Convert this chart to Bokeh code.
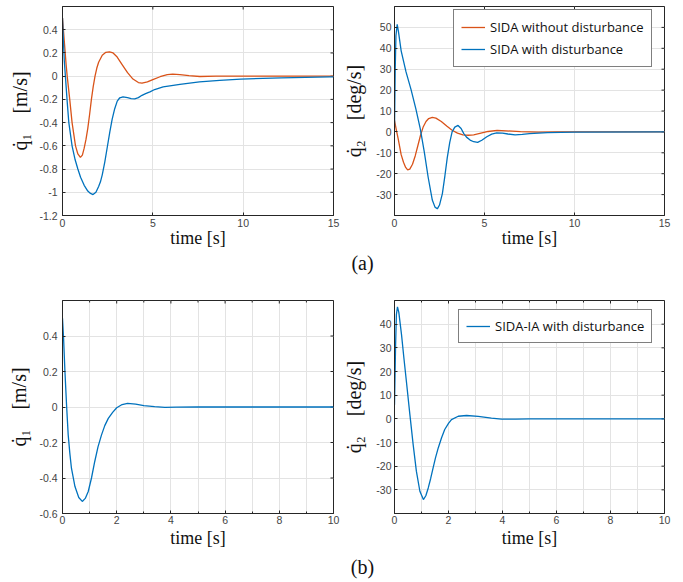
import math
from bokeh.plotting import figure
from bokeh.models import FixedTicker, Legend, LegendItem, Div, Range1d
from bokeh.layouts import column, row
from bokeh.embed import file_html
from bokeh.resources import INLINE

BLUE = "#0072BD"
ORANGE = "#D95319"
FRAME = "#262626"
GRID = "#e3e3e3"
TICKC = "#444444"

# ---------------- data: panel (a), q1 ----------------
t_a1_nodist = [0, 0.1, 0.2, 0.26, 0.4, 0.53, 0.72, 0.85, 0.99, 1.1, 1.2, 1.3, 1.4, 1.5, 1.6,
               1.7, 1.8, 1.9, 2.0, 2.2, 2.4, 2.6, 2.8, 3.0, 3.3, 3.6, 3.9, 4.2, 4.4, 4.7,
               5.0, 5.4, 5.8, 6.1, 6.5, 7.0, 7.6, 8.5, 10, 12, 15]
q1_a_nodist = [0.5, 0.3, 0.1, 0.0, -0.2, -0.4, -0.6, -0.67, -0.70, -0.68, -0.62, -0.545, -0.45,
               -0.33, -0.2, -0.09, 0.0, 0.07, 0.12, 0.18, 0.205, 0.21, 0.2, 0.17, 0.10, 0.03,
               -0.025, -0.055, -0.06, -0.05, -0.03, -0.005, 0.013, 0.018, 0.014, 0.004,
               -0.003, 0.0, 0.0, 0.0, 0.0]

t_a1_dist = [0, 0.05, 0.1, 0.16, 0.25, 0.35, 0.53, 0.7, 0.85, 1.0, 1.2, 1.4, 1.55, 1.69, 1.85,
             2.0, 2.1, 2.2, 2.34, 2.48, 2.62, 2.75, 2.89, 3.03, 3.17, 3.35, 3.6, 3.8, 4.0,
             4.2, 4.4, 4.6, 4.84, 5.1, 5.57, 6.5, 7.58, 8.7, 9.87, 12.1, 14.8, 15]
q1_a_dist = [0.5, 0.3, 0.13, 0.0, -0.2, -0.4, -0.6, -0.72, -0.8, -0.87, -0.94, -0.99, -1.01,
             -1.02, -1.0, -0.95, -0.91, -0.85, -0.74, -0.61, -0.48, -0.37, -0.28, -0.215,
             -0.186, -0.178, -0.185, -0.193, -0.195, -0.185, -0.165, -0.15, -0.135, -0.115,
             -0.093, -0.07, -0.05, -0.036, -0.025, -0.014, -0.006, -0.006]

# ---------------- data: panel (a), q2 ----------------
t_a2_nodist = [0, 0.1, 0.2, 0.37, 0.5, 0.62, 0.73, 0.85, 1.0, 1.15, 1.3, 1.45, 1.6, 1.75, 1.9,
               2.1, 2.3, 2.6, 2.9, 3.2, 3.5, 3.8, 4.1, 4.4, 4.8, 5.2, 5.7, 6.2, 7.0, 8.0,
               9.0, 15]
q2_a_nodist = [5.5, 1.0, -3.1, -10.9, -14.5, -17.0, -18.2, -17.8, -15.5, -11.5, -6.5, -1.5,
               2.5, 5.0, 6.4, 7.0, 6.6, 5.0, 2.8, 0.8, -0.6, -1.4, -1.6, -1.4, -0.6, 0.2,
               0.7, 0.5, 0.1, -0.1, 0.0, 0.0]

t_a2_dist = [0, 0.04, 0.08, 0.15, 0.22, 0.37, 0.64, 0.92, 1.19, 1.43, 1.65, 1.87, 2.1, 2.25,
             2.38, 2.5, 2.66, 2.8, 2.93, 3.07, 3.2, 3.35, 3.53, 3.7, 3.85, 4.0, 4.2, 4.4,
             4.62, 4.85, 5.13, 5.4, 5.68, 6.0, 6.3, 6.7, 7.1, 7.5, 8.5, 10, 15]
q2_a_dist = [2.0, 30.0, 46.0, 51.5, 48.0, 38.8, 28.7, 20.2, 10.9, 1.6, -9.3, -21.7, -32.6,
             -36.0, -36.8, -35.0, -29.5, -21.0, -12.4, -5.0, 0.0, 2.3, 3.1, 1.6, -0.8, -2.5,
             -3.9, -4.7, -5.0, -4.0, -2.3, -1.1, -0.5, -0.6, -1.0, -1.4, -1.2, -0.8, -0.3,
             -0.1, 0.0]

# ---------------- data: panel (b) ----------------
t_b1 = [0, 0.04, 0.09, 0.15, 0.21, 0.27, 0.33, 0.46, 0.6, 0.73, 0.84, 0.95, 1.07, 1.19, 1.31,
        1.44, 1.56, 1.69, 1.85, 2.0, 2.2, 2.4, 2.7, 3.0, 3.4, 3.78, 4.2, 5.0, 10]
q1_b = [0.5, 0.386, 0.2, 0.01, -0.157, -0.26, -0.345, -0.448, -0.51, -0.532, -0.515, -0.476,
        -0.4, -0.307, -0.225, -0.157, -0.105, -0.064, -0.03, -0.004, 0.014, 0.021, 0.016,
        0.0075, 0.002, -0.002, -0.001, 0.0, 0.0]

t_b2 = [0, 0.04, 0.07, 0.11, 0.16, 0.26, 0.35, 0.44, 0.57, 0.69, 0.81, 0.94, 1.07, 1.16, 1.25,
        1.34, 1.43, 1.52, 1.62, 1.74, 1.86, 2.0, 2.11, 2.36, 2.67, 3.1, 3.59, 3.96, 4.5,
        5.0, 10]
q2_b = [6.0, 31.0, 44.0, 47.3, 45.0, 35.6, 25.5, 15.9, 1.8, -10.8, -22.1, -30.6, -34.1, -32.5,
        -29.2, -25.2, -20.7, -16.4, -12.3, -8.1, -4.5, -1.9, -0.3, 1.1, 1.4, 1.0, 0.3, -0.1,
        -0.1, 0.0, 0.0]

# ---------------- ticks ----------------
xticks_a = [0, 5, 10, 15]
xticks_b = [0, 2, 4, 6, 8, 10]
xminor_b = [1, 3, 5, 7, 9]
yticks_a1 = [0.4, 0.2, 0, -0.2, -0.4, -0.6, -0.8, -1, -1.2]
ylabels_a1 = ["0.4", "0.2", "0", "-0.2", "-0.4", "-0.6", "-0.8", "-1", "-1.2"]
yticks_a2 = [50, 40, 30, 20, 10, 0, -10, -20, -30]
ylabels_a2 = ["50", "40", "30", "20", "10", "0", "-10", "-20", "-30"]
yticks_b1 = [0.4, 0.2, 0, -0.2, -0.4, -0.6]
ylabels_b1 = ["0.4", "0.2", "0", "-0.2", "-0.4", "-0.6"]
yticks_b2 = [40, 30, 20, 10, 0, -10, -20, -30]
ylabels_b2 = ["40", "30", "20", "10", "0", "-10", "-20", "-30"]

legend_a = ["SIDA without disturbance", "SIDA with disturbance"]
legend_b = ["SIDA-IA with disturbance"]

XLABEL = "time [s]"
YLABEL1 = "q\u0307\u2081\u2003[m/s]"
YLABEL2 = "q\u0307\u2082\u2003[deg/s]"


def make_fig(width, height, xr, yr, xt, xminor, yt, ylab_txt, ylabel,
             mbl, mbr, mbt, mbb, ystand, ylabstand, xstand, xlabstand):
    p = figure(width=width, height=height, x_range=Range1d(*xr), y_range=Range1d(*yr),
               output_backend="svg", toolbar_location=None,
               min_border_left=mbl, min_border_right=mbr,
               min_border_top=mbt, min_border_bottom=mbb)
    p.outline_line_color = FRAME
    p.outline_line_width = 1
    p.background_fill_color = "white"
    p.border_fill_color = "white"

    xa = p.xaxis[0]
    xa.ticker = FixedTicker(ticks=xt, minor_ticks=xminor)
    xa.major_label_overrides = {v: str(v) for v in xt}
    ya = p.yaxis[0]
    ya.ticker = FixedTicker(ticks=yt, minor_ticks=[])
    ya.major_label_overrides = {v: s for v, s in zip(yt, ylab_txt)}
    for ax in (xa, ya):
        ax.axis_line_color = FRAME
        ax.major_tick_in = 3
        ax.major_tick_out = 0
        ax.minor_tick_in = 2
        ax.minor_tick_out = 0
        ax.major_tick_line_color = FRAME
        ax.minor_tick_line_color = FRAME
        ax.major_label_text_font = "Liberation Sans"
        ax.major_label_text_font_size = "10.5px"
        ax.major_label_text_color = TICKC
        ax.axis_label_text_font = "Liberation Serif"
        ax.axis_label_text_font_style = "normal"
        ax.axis_label_text_color = "#111111"
    xa.axis_label = XLABEL
    xa.axis_label_text_font_size = "18px"
    xa.major_label_standoff = xstand
    xa.axis_label_standoff = xlabstand
    ya.axis_label = ylabel
    ya.axis_label_text_font_size = "20px"
    ya.major_label_standoff = ystand
    ya.axis_label_standoff = ylabstand

    # inward tick marks on the top and right edges of the box (clipped to the frame)
    p.scatter(x=xt, y=[yr[1]] * len(xt), marker="dash", angle=math.pi / 2, size=6,
              line_color=FRAME, line_width=1)
    if xminor:
        p.scatter(x=xminor, y=[yr[1]] * len(xminor), marker="dash", angle=math.pi / 2,
                  size=4, line_color=FRAME, line_width=1)
    p.scatter(x=[xr[1]] * len(yt), y=yt, marker="dash", size=6,
              line_color=FRAME, line_width=1)

    p.xgrid.ticker = FixedTicker(ticks=xt, minor_ticks=xminor)
    p.ygrid.ticker = FixedTicker(ticks=yt, minor_ticks=[])
    p.xgrid.grid_line_color = GRID
    p.ygrid.grid_line_color = GRID
    p.xgrid.grid_line_width = 1
    p.ygrid.grid_line_width = 1
    if xminor:
        p.xgrid.minor_grid_line_color = GRID
    return p


def make_legend(p, labels, renderers, loc, lh):
    leg = Legend(items=[LegendItem(label=l, renderers=[r]) for l, r in zip(labels, renderers)],
                 location=loc, padding=7, spacing=2, label_height=lh, glyph_height=lh,
                 glyph_width=24, label_standoff=5, margin=0,
                 border_line_color="#000000", border_line_width=1,
                 background_fill_color="white", background_fill_alpha=1,
                 label_text_font="Open Sans", label_text_font_size="13px",
                 label_text_color="#111111")
    p.add_layout(leg, "center")


LW = 1.3

# panel (a) left
p1 = make_fig(340, 250, (0, 15), (-1.2, 0.6), xticks_a, [], yticks_a1, ylabels_a1, YLABEL1,
              62, 7, 6, 32, 5, 5, 3, -2)
p1.line(t_a1_nodist, q1_a_nodist, line_color=ORANGE, line_width=LW)
p1.line(t_a1_dist, q1_a_dist, line_color=BLUE, line_width=LW)

# panel (a) right
p2 = make_fig(342, 250, (0, 15), (-40, 60), xticks_a, [], yticks_a2, ylabels_a2, YLABEL2,
              53, 18, 6, 32, 3, 8, 3, -2)
r_or = p2.line(t_a2_nodist, q2_a_nodist, line_color=ORANGE, line_width=LW)
r_bl = p2.line(t_a2_dist, q2_a_dist, line_color=BLUE, line_width=LW)
make_legend(p2, legend_a, [r_or, r_bl], (59, 148), 20)

# panel (b) left
p3 = make_fig(340, 271, (0, 10), (-0.6, 0.6), xticks_b, xminor_b, yticks_b1, ylabels_b1, YLABEL1,
              62, 7, 20, 38, 5, 6, 2, 1)
p3.line(t_b1, q1_b, line_color=BLUE, line_width=LW)

# panel (b) right
p4 = make_fig(342, 271, (0, 10), (-40, 50), xticks_b, xminor_b, yticks_b2, ylabels_b2, YLABEL2,
              53, 18, 20, 38, 3, 8, 2, 1)
r_b = p4.line(t_b2, q2_b, line_color=BLUE, line_width=LW)
make_legend(p4, legend_b, [r_b], (64, 170), 16)

cap_style = ("margin-left:50px; width:625px; text-align:center; "
             "font-family:'Liberation Serif'; font-size:20px; color:#111;")
cap_a = Div(text='<div style="%s line-height:26px;">(a)</div>' % cap_style,
            width=682, height=30, margin=0)
cap_b = Div(text='<div style="%s padding-top:4px; line-height:24px;">(b)</div>' % cap_style,
            width=682, height=30, margin=0)

layout = column(row(p1, p2), cap_a, row(p3, p4), cap_b)

open("out.html", "w").write(file_html(layout, INLINE))
